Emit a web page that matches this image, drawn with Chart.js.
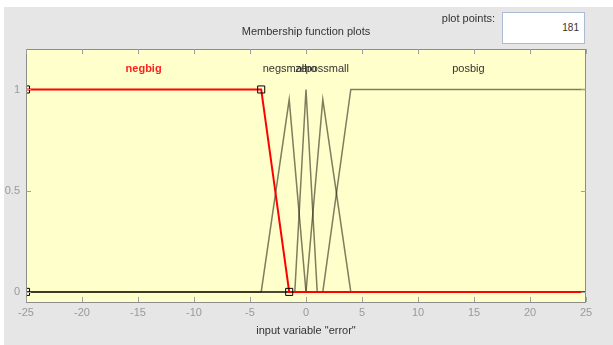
<!DOCTYPE html>
<html><head><meta charset="utf-8">
<script src="https://cdn.jsdelivr.net/npm/chart.js@4.4.1/dist/chart.umd.min.js"></script>
<style>
html,body{margin:0;padding:0;background:#fff;width:613px;height:345px;overflow:hidden;font-family:"Liberation Sans",Arial,sans-serif;}
#panel{position:absolute;left:4px;top:7px;width:609px;height:338px;background:#e6e6e6;}
#c{position:absolute;left:0;top:0;}
.t{position:absolute;color:#333;font-size:11px;line-height:13px;white-space:nowrap;}
#title{left:306px;top:25px;transform:translateX(-50%);}
#xlab{left:306px;top:324px;transform:translateX(-50%);}
#pp{right:118px;top:12px;}
#box{position:absolute;left:502px;top:12px;width:81px;height:30px;background:#fff;border:1px solid #a9bcd2;}
#box span{position:absolute;right:5px;top:9px;font-size:10px;line-height:12px;color:#333;}
</style></head>
<body>
<div id="panel"></div>
<canvas id="c" width="613" height="345"></canvas>
<div class="t" id="title">Membership function plots</div>
<div class="t" id="xlab">input variable "error"</div>
<div class="t" id="pp">plot points:</div>
<div id="box"><span>181</span></div>
<script>
// ---- data ----
const mfNames   = ['negbig','negsmall','zero','possmall','posbig'];
const negbigX   = [-25, -4, -1.5, 25];
const negbigY   = [1, 1, 0, 0];
const negsmallX = [-25, -4, -1.5, 0, 25];
const negsmallY = [0, 0, 0.95, 0, 0];
const zeroX     = [-25, -1, 0, 1, 25];
const zeroY     = [0, 0, 1, 0, 0];
const possmallX = [-25, 0, 1.5, 4, 25];
const possmallY = [0, 0, 0.95, 0, 0];
const posbigX   = [-25, 1.5, 4, 25];
const posbigY   = [0, 0, 1, 1];
const labelX    = [-14.5, -1.9, 0, 1.9, 14.5];
const labelY    = [1.1, 1.1, 1.1, 1.1, 1.1];
const markerX   = [-25, -25, -4, -1.5];
const markerY   = [0, 1, 1, 0];
const xTickVals = [-25,-20,-15,-10,-5,0,5,10,15,20,25];
const yTickVals = [0, 0.5, 1];
const yTickText = ['0','0.5','1'];

const pts = (xs, ys) => xs.map((x,i)=>({x, y: ys[i]}));
const gray = 'rgba(40,40,20,0.6)';

const deco = {
  id: 'deco',
  beforeDatasetsDraw(chart){
    const {ctx, chartArea:a} = chart;
    ctx.save();
    ctx.fillStyle = '#ffffcc';
    ctx.fillRect(a.left, a.top, a.width, a.height);
    ctx.restore();
  },
  afterDatasetsDraw(chart){
    const {ctx, chartArea:a, scales} = chart;
    ctx.save();
    ctx.strokeStyle = '#8c8c8c';
    ctx.lineWidth = 1;
    ctx.strokeRect(Math.round(a.left)+0.5, Math.round(a.top)+0.5, Math.round(a.width)-1, Math.round(a.height));
    ctx.strokeStyle = '#a0a0a0';
    ctx.beginPath();
    xTickVals.forEach(v=>{
      const px = Math.round(scales.x.getPixelForValue(v))+0.5;
      ctx.moveTo(px, a.bottom); ctx.lineTo(px, a.bottom-5);
      ctx.moveTo(px, a.top); ctx.lineTo(px, a.top+5);
    });
    yTickVals.forEach(v=>{
      const py = Math.round(scales.y.getPixelForValue(v))+0.5;
      ctx.moveTo(a.left, py); ctx.lineTo(a.left+5, py);
      ctx.moveTo(a.right, py); ctx.lineTo(a.right-5, py);
    });
    ctx.stroke();
    ctx.textAlign = 'center';
    ctx.textBaseline = 'middle';
    mfNames.forEach((n,i)=>{
      ctx.font = (i===0 ? 'bold ' : '') + '11px "Liberation Sans", Arial, sans-serif';
      ctx.fillStyle = i===0 ? '#ff2020' : '#333';
      ctx.fillText(n, scales.x.getPixelForValue(labelX[i]), scales.y.getPixelForValue(labelY[i]));
    });
    ctx.restore();
  }
};

new Chart(document.getElementById('c'), {
  type: 'scatter',
  data: {
    datasets: [
      {data: pts(markerX, markerY), showLine:false, pointStyle:'rect', pointRadius:5, borderColor:'#000', backgroundColor:'rgba(0,0,0,0)', borderWidth:1},
      {data: pts(negbigX, negbigY), showLine:true, borderColor:'#ff0000', borderWidth:2, pointRadius:0},
      {data: pts(negsmallX, negsmallY), showLine:true, borderColor:gray, borderWidth:1.5, pointRadius:0},
      {data: pts(zeroX, zeroY), showLine:true, borderColor:gray, borderWidth:1.5, pointRadius:0},
      {data: pts(possmallX, possmallY), showLine:true, borderColor:gray, borderWidth:1.5, pointRadius:0},
      {data: pts(posbigX, posbigY), showLine:true, borderColor:gray, borderWidth:1.5, pointRadius:0}
    ]
  },
  options: {
    responsive:false, animation:false, devicePixelRatio:1,
    layout:{padding:{left:4, right:27, top:49, bottom:0}},
    plugins:{legend:{display:false}, tooltip:{enabled:false}},
    scales:{
      x:{type:'linear', min:-25, max:25,
         afterBuildTicks: s => { s.ticks = xTickVals.map(v=>({value:v})); },
         afterFit: s => { s.height = 43; },
         grid:{display:false, drawTicks:false}, border:{display:false},
         ticks:{color:'#9a9a9a', padding:4, maxRotation:0, font:{size:11, family:'"Liberation Sans", Arial, sans-serif'}}},
      y:{type:'linear', min:-0.05, max:1.2,
         afterBuildTicks: s => { s.ticks = yTickVals.map(v=>({value:v})); },
         afterFit: s => { s.width = 22; },
         grid:{display:false, drawTicks:false}, border:{display:false},
         ticks:{color:'#9a9a9a', padding:6, callback:(v)=> yTickText[yTickVals.indexOf(v)] ?? '', font:{size:11, family:'"Liberation Sans", Arial, sans-serif'}}}
    }
  },
  plugins:[deco]
});
</script>
</body></html>
